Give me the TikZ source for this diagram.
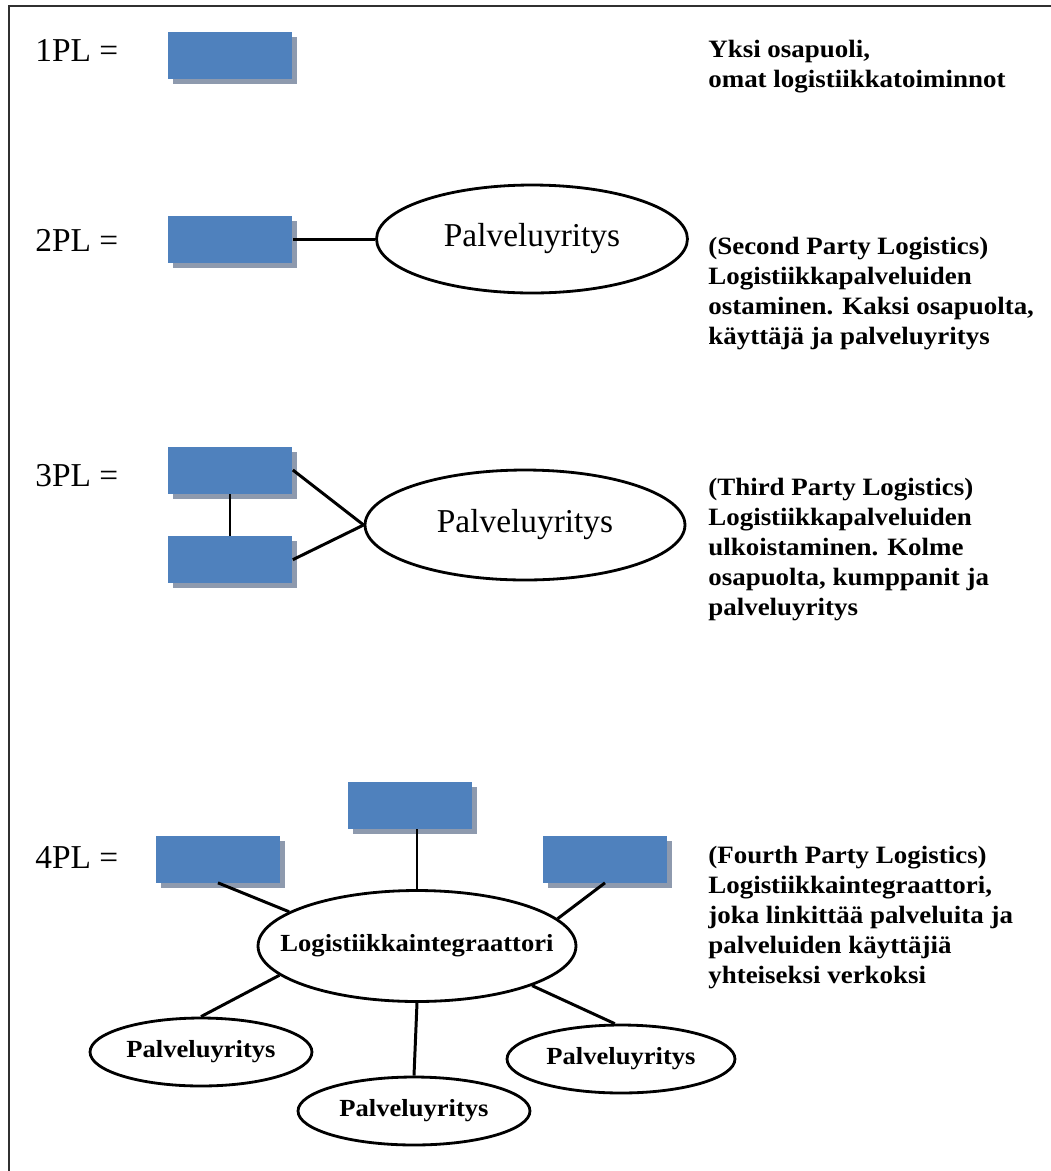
\documentclass[tikz,border=0pt]{standalone}
\usepackage{fontspec}
\setmainfont{Liberation Serif}
\newfontfamily\notefont{Liberation Serif}[FakeStretch=1.08]
\usetikzlibrary{positioning,shapes.geometric,shadows}
\definecolor{boxblue}{HTML}{4F81BD}
\definecolor{boxshadow}{HTML}{8E9AAE}
\definecolor{framegray}{HTML}{303030}
\tikzset{
  party/.style={rectangle,fill=boxblue,minimum width=2.5cm,minimum height=0.94cm,inner sep=0pt,
    drop shadow={shadow xshift=0.1cm,shadow yshift=-0.1cm,fill=boxshadow,opacity=1}},
  service/.style={ellipse,draw,line width=1.6pt,fill=white,inner sep=0pt,font=\fontsize{19}{22}\selectfont},
  hub/.style={ellipse,draw,line width=1.6pt,fill=white,inner sep=0pt,minimum height=1.36cm},
  hubtext/.style={font=\notefont\bfseries\fontsize{14}{16}\selectfont},
  level/.style={anchor=west,inner sep=0pt,font=\fontsize{19}{22}\selectfont},
  note/.style={anchor=north west,inner sep=0pt,align=left,font=\notefont\bfseries\fontsize{14.2}{17}\selectfont},
  link/.style={line width=1.7pt}
}

\begin{document}
\begin{tikzpicture}[x=0.02cm,y=-0.02cm]
    \useasboundingbox (0,0) rectangle (1051,1171);
    \draw[framegray,line width=1.1pt] (9,1171) -- (9,6) -- (1051,6);
    % 1PL
    \node[level] (l1) at (35,50) {1PL =};
    \node[party] (r1) at (230,55) {};
    \node[note] (t1) at (708,40) {Yksi osapuoli,\\omat logistiikkatoiminnot};
    % 2PL
    \node[level] (l2) at (35,240) {2PL =};
    \node[party] (r2) at (230,239) {};
    \node[service,minimum width=6.22cm,minimum height=2.16cm] (e2) at (532,239) {Palveluyritys};
    \node[note] (t2) at (708,237) {(Second Party Logistics)\\Logistiikkapalveluiden\\ostaminen. Kaksi osapuolta,\\käyttäjä ja palveluyritys};
    \draw[link] (r2.east) -- (e2.west);
    % 3PL
    \node[level] (l3) at (35,476) {3PL =};
    \node[party] (r3a) at (230,470) {};
    \node[party,below=0.84cm of r3a] (r3b) {};
    \node[service,minimum width=6.4cm,minimum height=2.2cm] (e3) at (525,525) {Palveluyritys};
    \node[note] (t3) at (708,478) {(Third Party Logistics)\\Logistiikkapalveluiden\\ulkoistaminen. Kolme\\osapuolta, kumppanit ja\\palveluyritys};
    \draw[link] (r3a.south) -- (r3b.north);
    \draw[link] (r3a.east) -- (e3.west);
    \draw[link] (r3b.east) -- (e3.west);
    % 4PL
    \node[level] (l4) at (35,858) {4PL =};
    \node[party] (r4l) at (218,859) {};
    \node[party] (r4m) at (410,805) {};
    \node[party] (r4r) at (605,859) {};
    \node[hub,minimum width=6.36cm,minimum height=2.22cm,label={[hubtext]center:Logistiikkaintegraattori}] (integ) at (417,946) {};
    \node[hub,minimum width=4.44cm,label={[hubtext]center:Palveluyritys}] (pl1) at (201,1052) {};
    \node[hub,minimum width=4.64cm,label={[hubtext]center:Palveluyritys}] (pl2) at (414,1111) {};
    \node[hub,minimum width=4.56cm,label={[hubtext]center:Palveluyritys}] (pl3) at (621,1059) {};
    \node[note] (t4) at (708,846) {(Fourth Party Logistics)\\Logistiikkaintegraattori,\\joka linkittää palveluita ja\\palveluiden käyttäjiä\\yhteiseksi verkoksi};
    \draw[link] (r4l.south) -- (integ.165);
    \draw[link] (integ.north) -- (integ.north |- r4m.south);
    \draw[link] (r4r.south) -- (integ.11);
    \draw[link] (integ.192) -- (pl1.north);
    \draw[link] (integ.south) -- (pl2.north);
    \draw[link] (integ.341) -- (pl3.100);
  \end{tikzpicture}
\end{document}
